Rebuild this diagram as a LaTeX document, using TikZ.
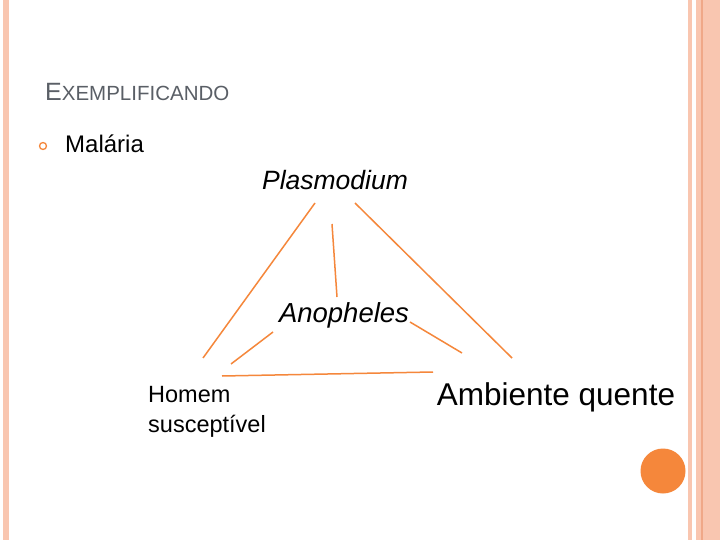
\documentclass[tikz,border=0pt]{standalone}
\usepackage{fontspec}
\setmainfont{Liberation Sans}
\definecolor{peach}{HTML}{F9C6B0}
\definecolor{peachd}{HTML}{F0A888}
\definecolor{orng}{HTML}{F5873B}
\definecolor{titlegray}{HTML}{5A5F66}
\begin{document}
\begin{tikzpicture}[x=1pt,y=-1pt,
  lnk/.style={draw=orng,line width=1.5pt},
  lab/.style={inner sep=0pt,anchor=base}]
\useasboundingbox (0,0) rectangle (720,540);
\fill[white] (0,0) rectangle (720,540);
% borders
\fill[peach] (3,0) rectangle (9,540);
\fill[peach] (688,0) rectangle (692,540);
\fill[peach] (696,0) rectangle (720,540);
\fill[peachd] (701,0) rectangle (702.5,540);
% title
\node[lab,anchor=base west,text=titlegray] (title) at (45,101) {\fontsize{25}{25}\selectfont E\fontsize{20.5}{20.5}\selectfont XEMPLIFICANDO};
\node[circle,draw=orng,line width=1.3pt,minimum size=7pt,inner sep=0pt] (bul) at (43,146) {};
\node[lab,anchor=base west] (mal) at (65,153) {\fontsize{24}{24}\selectfont Malária};
\node[lab] (plas) at (335,190) {\fontsize{26.5}{26.5}\selectfont\itshape Plasmodium};
\node[lab] (anoph) at (344,322) {\fontsize{27.5}{27.5}\selectfont\itshape Anopheles};
\node[anchor=north west,inner sep=0pt,align=left,font=\fontsize{23.5}{30}\selectfont] (hom) at (148,386) {Homem\\susceptível};
\node[lab] (amb) at (556,405) {\fontsize{31.5}{31.5}\selectfont Ambiente quente};
\node[circle,fill=orng,minimum size=45pt,inner sep=0pt] (dot) at (663,471) {};
% connector ends
\coordinate (p1) at (315,203); \coordinate (h1) at (203,358);
\coordinate (p2) at (355,203); \coordinate (a1) at (512,358);
\coordinate (p3) at (332,224); \coordinate (n1) at (337,297);
\coordinate (n2) at (273,332); \coordinate (h2) at (231,364);
\coordinate (n3) at (410,322); \coordinate (a2) at (462,353);
\coordinate (h3) at (222,376); \coordinate (a3) at (433,372);
\draw[lnk] (p1) -- (h1);
\draw[lnk] (p2) -- (a1);
\draw[lnk] (p3) -- (n1);
\draw[lnk] (n2) -- (h2);
\draw[lnk] (n3) -- (a2);
\draw[lnk] (h3) -- (a3);
\end{tikzpicture}
\end{document}
